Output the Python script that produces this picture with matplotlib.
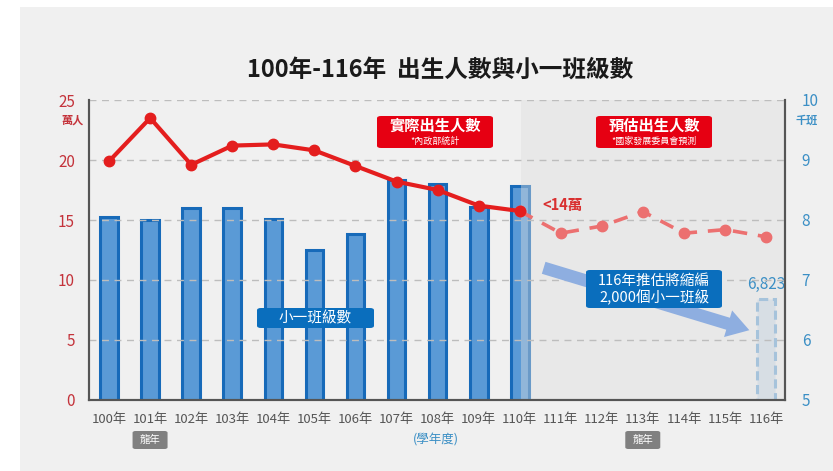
import matplotlib
matplotlib.use("Agg")
import matplotlib.pyplot as plt
from matplotlib.patches import FancyBboxPatch, Rectangle, FancyArrowPatch
import numpy as np

plt.rcParams['font.family'] = ['Noto Sans CJK TC', 'DejaVu Sans']

# ---------------- data ----------------
years = ["100年", "101年", "102年", "103年", "104年", "105年", "106年", "107年",
         "108年", "109年", "110年", "111年", "112年", "113年", "114年", "115年", "116年"]
births_actual = [19.9, 23.5, 19.6, 21.2, 21.3, 20.8, 19.5, 18.2, 17.5, 16.2, 15.75]  # 萬人, 100-110
births_proj = [15.75, 13.9, 14.5, 15.7, 13.9, 14.2, 13.6]  # 萬人, 110-116
classes_actual = [8.05, 8.0, 8.2, 8.2, 8.02, 7.5, 7.77, 8.67, 8.6, 8.22, 8.57]  # 千班, 100-110
class_116 = 6.68
class_116_label = "6,823"
left_ticks = [0, 5, 10, 15, 20, 25]
right_ticks = [5, 6, 7, 8, 9, 10]
dragon_years = ["101年", "113年"]

W, H = 833, 471
fig = plt.figure(figsize=(W / 100, H / 100), dpi=100, facecolor="white")

def fx(px):
    return px / W

def fy(py):
    return 1 - py / H

# background panel
fig.patches.append(Rectangle((fx(20), 0), 1 - fx(20), fy(7), transform=fig.transFigure,
                             facecolor="#f0f0f0", edgecolor="none", zorder=-10))

ax2 = fig.add_axes([fx(89), fy(400), fx(785) - fx(89), fy(100) - fy(400)])
ax = ax2.twinx()
ax.yaxis.tick_left()
ax.yaxis.set_label_position("left")
ax2.yaxis.tick_right()
ax.set_zorder(ax2.get_zorder() + 1)
ax.patch.set_visible(False)
ax2.patch.set_visible(False)

x = np.arange(len(years))
xa = x[:len(classes_actual)]

# bars (right axis, 千班)
ax2.bar(xa, classes_actual, width=0.43, color="#5a9ad6", edgecolor="#176ab9", linewidth=2.2, zorder=2)
ax2.bar(x[-1], class_116, width=0.43, color="#d3deea", edgecolor="#7fb0da", linewidth=2.2,
        linestyle=(0, (3, 1.5)), zorder=2)
ax2.text(x[-1], class_116 + 0.1, class_116_label, ha="center", va="bottom", color="#3b8fc5",
         fontsize=11, zorder=5)

# shaded forecast region
ax2.axvspan(10.03, 16.6, color="#dedede", alpha=0.42, lw=0, zorder=3)

ax2.set_ylim(5, 10)
ax2.set_yticks(right_ticks)
ax2.tick_params(axis="y", length=0, pad=12, labelcolor="#3b8fc5", labelsize=11)

# gridlines (left axis)
for t in left_ticks[1:]:
    ax.axhline(t, color="#bdbdbd", lw=1.0, ls=(0, (5, 4)), zorder=0)

# lines (left axis, 萬人)
xp = x[len(births_actual) - 1:]
ax.plot(xp, births_proj, color="#ec7070", lw=2.6, ls=(0, (4, 3)), marker="o", ms=7.5,
        zorder=4)
ax.plot(xa, births_actual, color="#e41e1e", lw=3.0, marker="o", ms=7.5, zorder=5)

ax.set_ylim(0, 25)
ax.set_yticks(left_ticks)
ax.tick_params(axis="y", length=0, pad=10, labelcolor="#c4333b", labelsize=11)

ax2.set_xlim(-0.49, 16.46)
ax2.set_xticks(x)
ax2.set_xticklabels(years)
ax2.tick_params(axis="x", length=0, pad=9, labelcolor="#555555", labelsize=9.5)
ax.tick_params(axis="x", bottom=False, labelbottom=False, top=False, labeltop=False)

for a in (ax, ax2):
    for s in ("top",):
        a.spines[s].set_visible(False)
    for s in ("left", "right", "bottom"):
        a.spines[s].set_color("#555555")
        a.spines[s].set_linewidth(1.5)
        a.spines[s].set_zorder(6)

# unit labels
fig.text(fx(73), fy(120), "萬人", color="#c4333b", fontsize=8, fontweight="bold", ha="center", va="center")
fig.text(fx(807), fy(120), "千班", color="#3b8fc5", fontsize=8, fontweight="bold", ha="center", va="center")

# title
fig.text(fx(440), fy(70), "100年-116年  出生人數與小一班級數", fontsize=17, fontweight="bold",
         ha="center", va="center", color="#1a1a1a")

def box(x0, y0, x1, y1, color, rad=4):
    fig.patches.append(FancyBboxPatch((fx(x0), fy(y1)), fx(x1) - fx(x0), fy(y0) - fy(y1),
                                      boxstyle="round,pad=0,rounding_size=%f" % (rad / W),
                                      transform=fig.transFigure, facecolor=color,
                                      edgecolor="none", zorder=20))

# red boxes
box(377, 116, 493, 148, "#e60012")
fig.text(fx(435), fy(126), "實際出生人數", color="white", fontsize=11, fontweight="bold",
         ha="center", va="center", zorder=21)
fig.text(fx(435), fy(141), "*內政部統計", color="white", fontsize=6.5, ha="center", va="center", zorder=21)
box(596, 116, 712, 148, "#e60012")
fig.text(fx(654), fy(126), "預估出生人數", color="white", fontsize=11, fontweight="bold",
         ha="center", va="center", zorder=21)
fig.text(fx(654), fy(141), "*國家發展委員會預測", color="white", fontsize=6.5, ha="center", va="center", zorder=21)

fig.text(fx(563), fy(205), "<14萬", color="#d93030", fontsize=10.5, fontweight="bold",
         ha="center", va="center", zorder=21)

# arrow
arr = FancyArrowPatch((fx(541), fy(267)), (fx(752), fy(331)), transform=fig.transFigure,
                      arrowstyle="simple,head_width=2.0,head_length=1.6,tail_width=0.9",
                      mutation_scale=10, color="#8eaee0", lw=0, zorder=15)
fig.patches.append(arr)

# blue boxes
box(586, 270, 722, 308, "#0a6ebd")
fig.text(fx(654), fy(281), "116年推估將縮編", color="white", fontsize=10.5, ha="center", va="center", zorder=21)
fig.text(fx(654), fy(298), "2,000個小一班級", color="white", fontsize=10.5, ha="center", va="center", zorder=21)
box(257, 308, 374, 328, "#0a6ebd")
fig.text(fx(315.5), fy(318), "小一班級數", color="white", fontsize=10.5, ha="center", va="center", zorder=21)

# bottom labels
fig.text(fx(436), fy(440), "(學年度)", color="#3b8fc5", fontsize=9, ha="center", va="center")
for dy in dragon_years:
    i = years.index(dy)
    px = 109 + i * 41.06
    box(px - 17.5, 431, px + 17.5, 449, "#808080", rad=3)
    fig.text(fx(px), fy(440), "龍年", color="white", fontsize=7.5, ha="center", va="center", zorder=21)

fig.savefig("out.png", dpi=100, facecolor="white")
